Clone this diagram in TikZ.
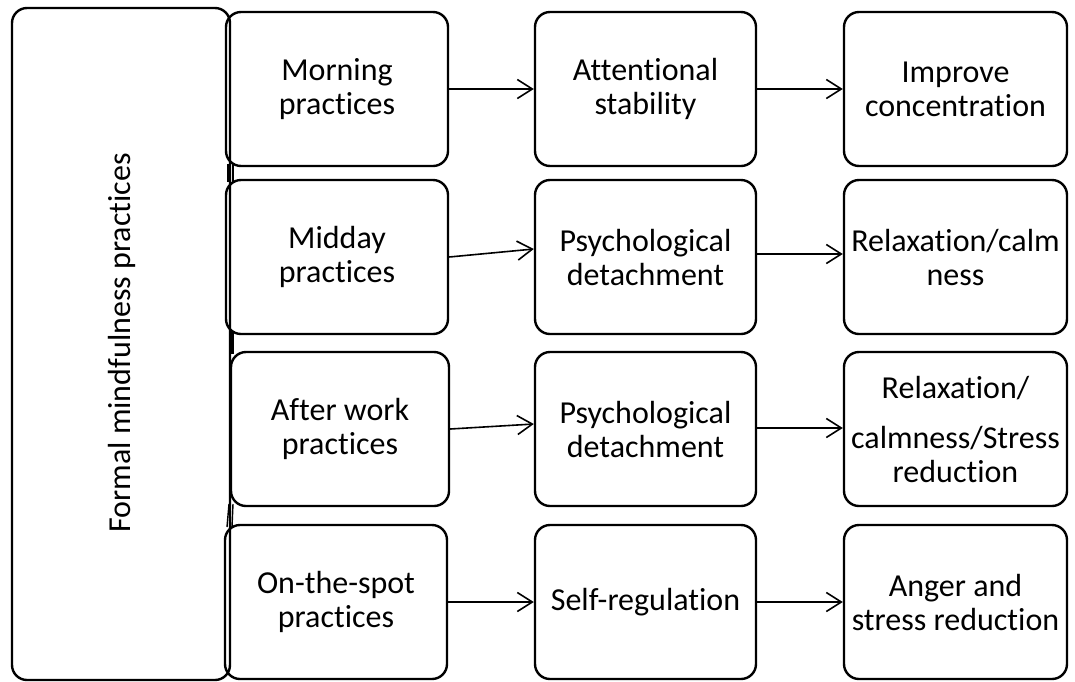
\documentclass[tikz,border=0pt]{standalone}
\usepackage{fontspec}
\setmainfont{Carlito}[Ligatures=NoCommon]
\usetikzlibrary{arrows.meta}
\begin{document}
\begin{tikzpicture}[x=1pt,y=-1pt,
  box/.style={draw, line width=2.4pt, rounded corners=15pt, align=center,
    inner sep=0pt, font=\fontsize{32}{34}\selectfont},
  flow/.style={line width=1.6pt, -{Straight Barb[length=15pt,width=19pt,line width=1.6pt]}},
  link/.style={line width=1.4pt}]
\useasboundingbox (0,0) rectangle (1075,681);

% group box on the left
\node[box, minimum width=218pt, minimum height=672pt] (formal) at (121,344) {};
\node[rotate=90, font=\fontsize{32}{34}\selectfont] (formaltext) at (122,343) {Formal mindfulness practices};

% column 1
\node[box, minimum width=222pt, minimum height=154pt] (a1) at (337,89) {Morning\\practices};
\node[box, minimum width=222pt, minimum height=154pt] (a2) at (337,257) {Midday\\practices};
\node[box, minimum width=218pt, minimum height=154pt] (a3) at (340,429) {After work\\practices};
\node[box, minimum width=222pt, minimum height=154pt] (a4) at (336,602) {On-the-spot\\practices};

% column 2
\node[box, minimum width=221pt, minimum height=154pt] (b1) at (645.5,89) {Attentional\\stability};
\node[box, minimum width=221pt, minimum height=154pt] (b2) at (645.5,257) {Psychological\\detachment};
\node[box, minimum width=221pt, minimum height=154pt] (b3) at (645.5,429) {Psychological\\detachment};
\node[box, minimum width=221pt, minimum height=154pt] (b4) at (645.5,602) {Self-regulation};

% column 3
\node[box, minimum width=223pt, minimum height=154pt] (c1) at (955.5,89) {Improve\\concentration};
\node[box, minimum width=223pt, minimum height=154pt] (c2) at (955.5,257) {Relaxation/calm\\ness};
\node[box, minimum width=223pt, minimum height=154pt] (c3) at (955.5,429) {Relaxation/\\[16pt]calmness/Stress\\reduction};
\node[box, minimum width=223pt, minimum height=154pt] (c4) at (955.5,602) {Anger and\\stress reduction};

% links from the group box into each row
\coordinate (g1t) at (228,164); \coordinate (g1b) at (228,182);
\coordinate (h1t) at (233,164); \coordinate (h1b) at (233,182);
\coordinate (g2t) at (231,332); \coordinate (g2b) at (231,354);
\coordinate (h2t) at (233,332); \coordinate (h2b) at (233,354);
\coordinate (g3t) at (229,504); \coordinate (g3b) at (227,527);
\coordinate (h3t) at (233,504); \coordinate (h3b) at (232,527);
\draw[link] (g1t) -- (g1b); \draw[link] (h1t) -- (h1b);
\draw[link] (g2t) -- (g2b); \draw[link] (h2t) -- (h2b);
\draw[link] (g3t) -- (g3b); \draw[link] (h3t) -- (h3b);

% arrows
\draw[flow] (a1.east) -- (b1.west);
\draw[flow] (b1.east) -- (c1.west);
\draw[flow] (a2.east) -- ([yshift=8pt]b2.west);
\draw[flow] ([yshift=3pt]b2.east) -- ([yshift=3pt]c2.west);
\draw[flow] (a3.east) -- ([yshift=5pt]b3.west);
\draw[flow] ([yshift=1pt]b3.east) -- ([yshift=1pt]c3.west);
\draw[flow] (a4.east) -- (b4.west);
\draw[flow] (b4.east) -- (c4.west);
\end{tikzpicture}
\end{document}
